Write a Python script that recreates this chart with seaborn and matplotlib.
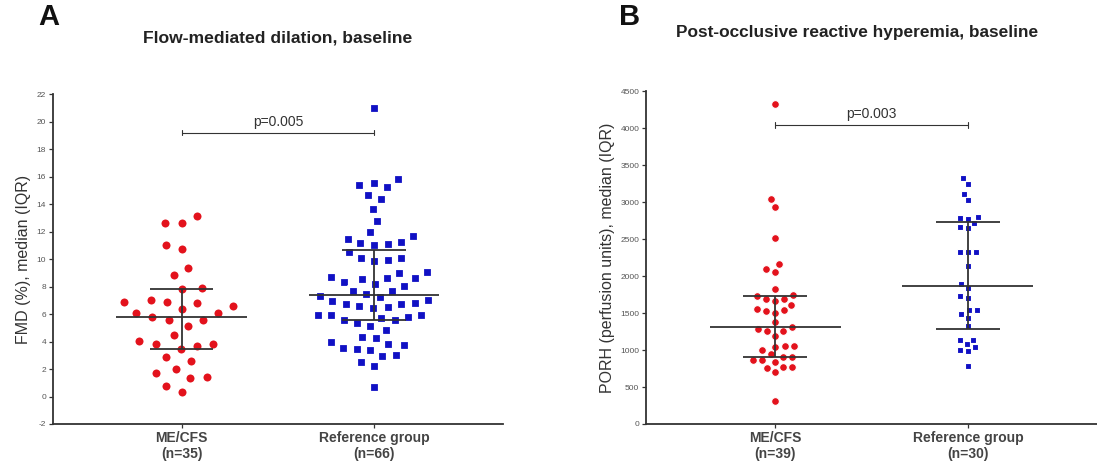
import numpy as np
import matplotlib
matplotlib.use("Agg")
import matplotlib.pyplot as plt
import seaborn as sns

sns.set_style("ticks")
plt.rcParams['font.family'] = ['Liberation Sans', 'DejaVu Sans']

groups = ["ME/CFS", "Reference group"]

# FMD (%), baseline
fmd_mecfs = [12.6, 12.65, 13.1, 11.05, 10.75, 9.35, 8.85, 7.85, 7.9, 6.9,
             6.9, 7.05, 6.8, 6.6, 6.35, 6.1, 6.05, 5.8, 5.6, 5.6,
             5.1, 4.5, 4.05, 3.85, 3.45, 3.65, 3.8, 2.9, 2.55, 2.0,
             1.7, 1.45, 1.35, 0.8, 0.35]
fmd_ref = [21.0, 15.55, 15.85, 15.35, 15.25, 14.4, 14.65, 13.65, 12.75, 11.95,
           11.65, 11.1, 11.05, 11.25, 11.15, 11.45, 10.5, 9.9, 10.05, 10.1,
           9.85, 8.7, 8.95, 9.05, 8.55, 8.65, 8.6, 8.35, 8.2, 8.05,
           7.45, 7.7, 7.3, 7.25, 6.6, 6.8, 7.05, 6.7, 6.75, 6.95,
           6.5, 6.45, 5.7, 5.6, 5.9, 5.95, 5.9, 5.75, 5.35, 5.1,
           4.85, 4.25, 4.3, 3.8, 3.75, 3.4, 3.95, 3.5, 3.45, 3.0,
           2.95, 2.5, 2.2, 0.7, 7.7, 5.6]

# PORH (perfusion units), baseline
porh_mecfs = [4325, 3040, 2935, 2515, 2055, 2090, 2165, 1830, 1695, 1725,
              1670, 1695, 1750, 1615, 1555, 1525, 1535, 1505, 1255, 1255,
              1195, 1310, 1285, 1060, 1050, 1045, 995, 910, 910, 940,
              860, 860, 835, 775, 765, 760, 700, 315, 1380]
porh_ref = [3330, 3250, 3115, 3025, 2790, 2800, 2775, 2650, 2665, 2715,
            2325, 2325, 2325, 2135, 1895, 1840, 1725, 1705, 1545, 1490,
            1535, 1435, 1330, 1085, 1130, 1140, 1040, 995, 985, 785]

fmd_yticks = list(range(-2, 23, 2))
porh_yticks = list(range(0, 4501, 500))

RED = '#e3121c'
BLUE = '#1010c4'
DARK = '#333333'


def median_iqr(ax, pos, vals):
    q1, med, q3 = np.percentile(vals, [25, 50, 75], method='weibull')
    ax.hlines(med, pos - 0.34, pos + 0.34, color=DARK, lw=1.3, zorder=5)
    ax.hlines([q1, q3], pos - 0.165, pos + 0.165, color=DARK, lw=1.3, zorder=5)
    ax.vlines(pos, q1, q3, color=DARK, lw=1.3, zorder=5)


def draw_panel(ax, a, b, yticks, ylabel, p_text, p_y, p_tick, msize, edge):
    # white edges widen the swarm spacing, like the original layout
    sns.swarmplot(x=[groups[0]] * len(a), y=a, order=groups, ax=ax,
                  color=RED, marker='o', size=msize[0], linewidth=edge[0],
                  edgecolor='white')
    sns.swarmplot(x=[groups[1]] * len(b), y=b, order=groups, ax=ax,
                  color=BLUE, marker='s', size=msize[1], linewidth=edge[1],
                  edgecolor='white')
    median_iqr(ax, 0, a)
    median_iqr(ax, 1, b)

    # significance bracket
    ax.plot([0, 1], [p_y, p_y], color=DARK, lw=0.8)
    ax.plot([0, 0], [p_y - p_tick, p_y + p_tick], color=DARK, lw=0.8)
    ax.plot([1, 1], [p_y - p_tick, p_y + p_tick], color=DARK, lw=0.8)
    ax.text(0.5, p_y + p_tick * 1.3, p_text, ha='center', va='bottom',
            fontsize=10, color=DARK)

    ax.set_xlim(-0.67, 1.67)
    ax.set_ylim(yticks[0], yticks[-1])
    ax.set_yticks(yticks)
    ax.set_yticklabels([str(t) for t in yticks], fontsize=6, color='#555555')
    ax.set_xticks([0, 1])
    ax.set_xticklabels([f"{groups[0]}\n(n={len(a)})", f"{groups[1]}\n(n={len(b)})"],
                       fontsize=10, fontweight='bold', color='#444444')
    ax.set_xlabel('')
    ax.set_ylabel(ylabel, fontsize=11.5, color='#333333')
    sns.despine(ax=ax)
    for s in ['left', 'bottom']:
        ax.spines[s].set_linewidth(1.3)
        ax.spines[s].set_color(DARK)
    ax.tick_params(axis='both', length=3, width=0.9, color=DARK, pad=2)


fig = plt.figure(figsize=(10.97, 4.72), dpi=100)
axA = fig.add_axes([0.0483, 0.1017, 0.410, 0.699])
axB = fig.add_axes([0.589, 0.1017, 0.411, 0.705])

draw_panel(axA, fmd_mecfs, fmd_ref, fmd_yticks, 'FMD (%), median (IQR)',
           'p=0.005', 19.2, 0.2, (8.6, 7.0), (2.8, 2.3))
draw_panel(axB, porh_mecfs, porh_ref, porh_yticks, 'PORH (perfusion units), median (IQR)',
           'p=0.003', 4040, 40, (5.6, 4.6), (0.8, 0.8))

fig.text(278 / 1097, 1 - 38 / 472, 'Flow-mediated dilation, baseline',
         fontsize=12.6, fontweight='bold', ha='center', va='center', color='#222222')
fig.text(857 / 1097, 1 - 33 / 472, 'Post-occlusive reactive hyperemia, baseline',
         fontsize=12.4, fontweight='bold', ha='center', va='center', color='#222222')

fig.text(49 / 1097, 1 - 17 / 472, 'A', fontsize=21, fontweight='bold',
         ha='center', va='center', color='#111111')
fig.text(630 / 1097, 1 - 17 / 472, 'B', fontsize=21, fontweight='bold',
         ha='center', va='center', color='#111111')

fig.savefig('out.png', dpi=100)
